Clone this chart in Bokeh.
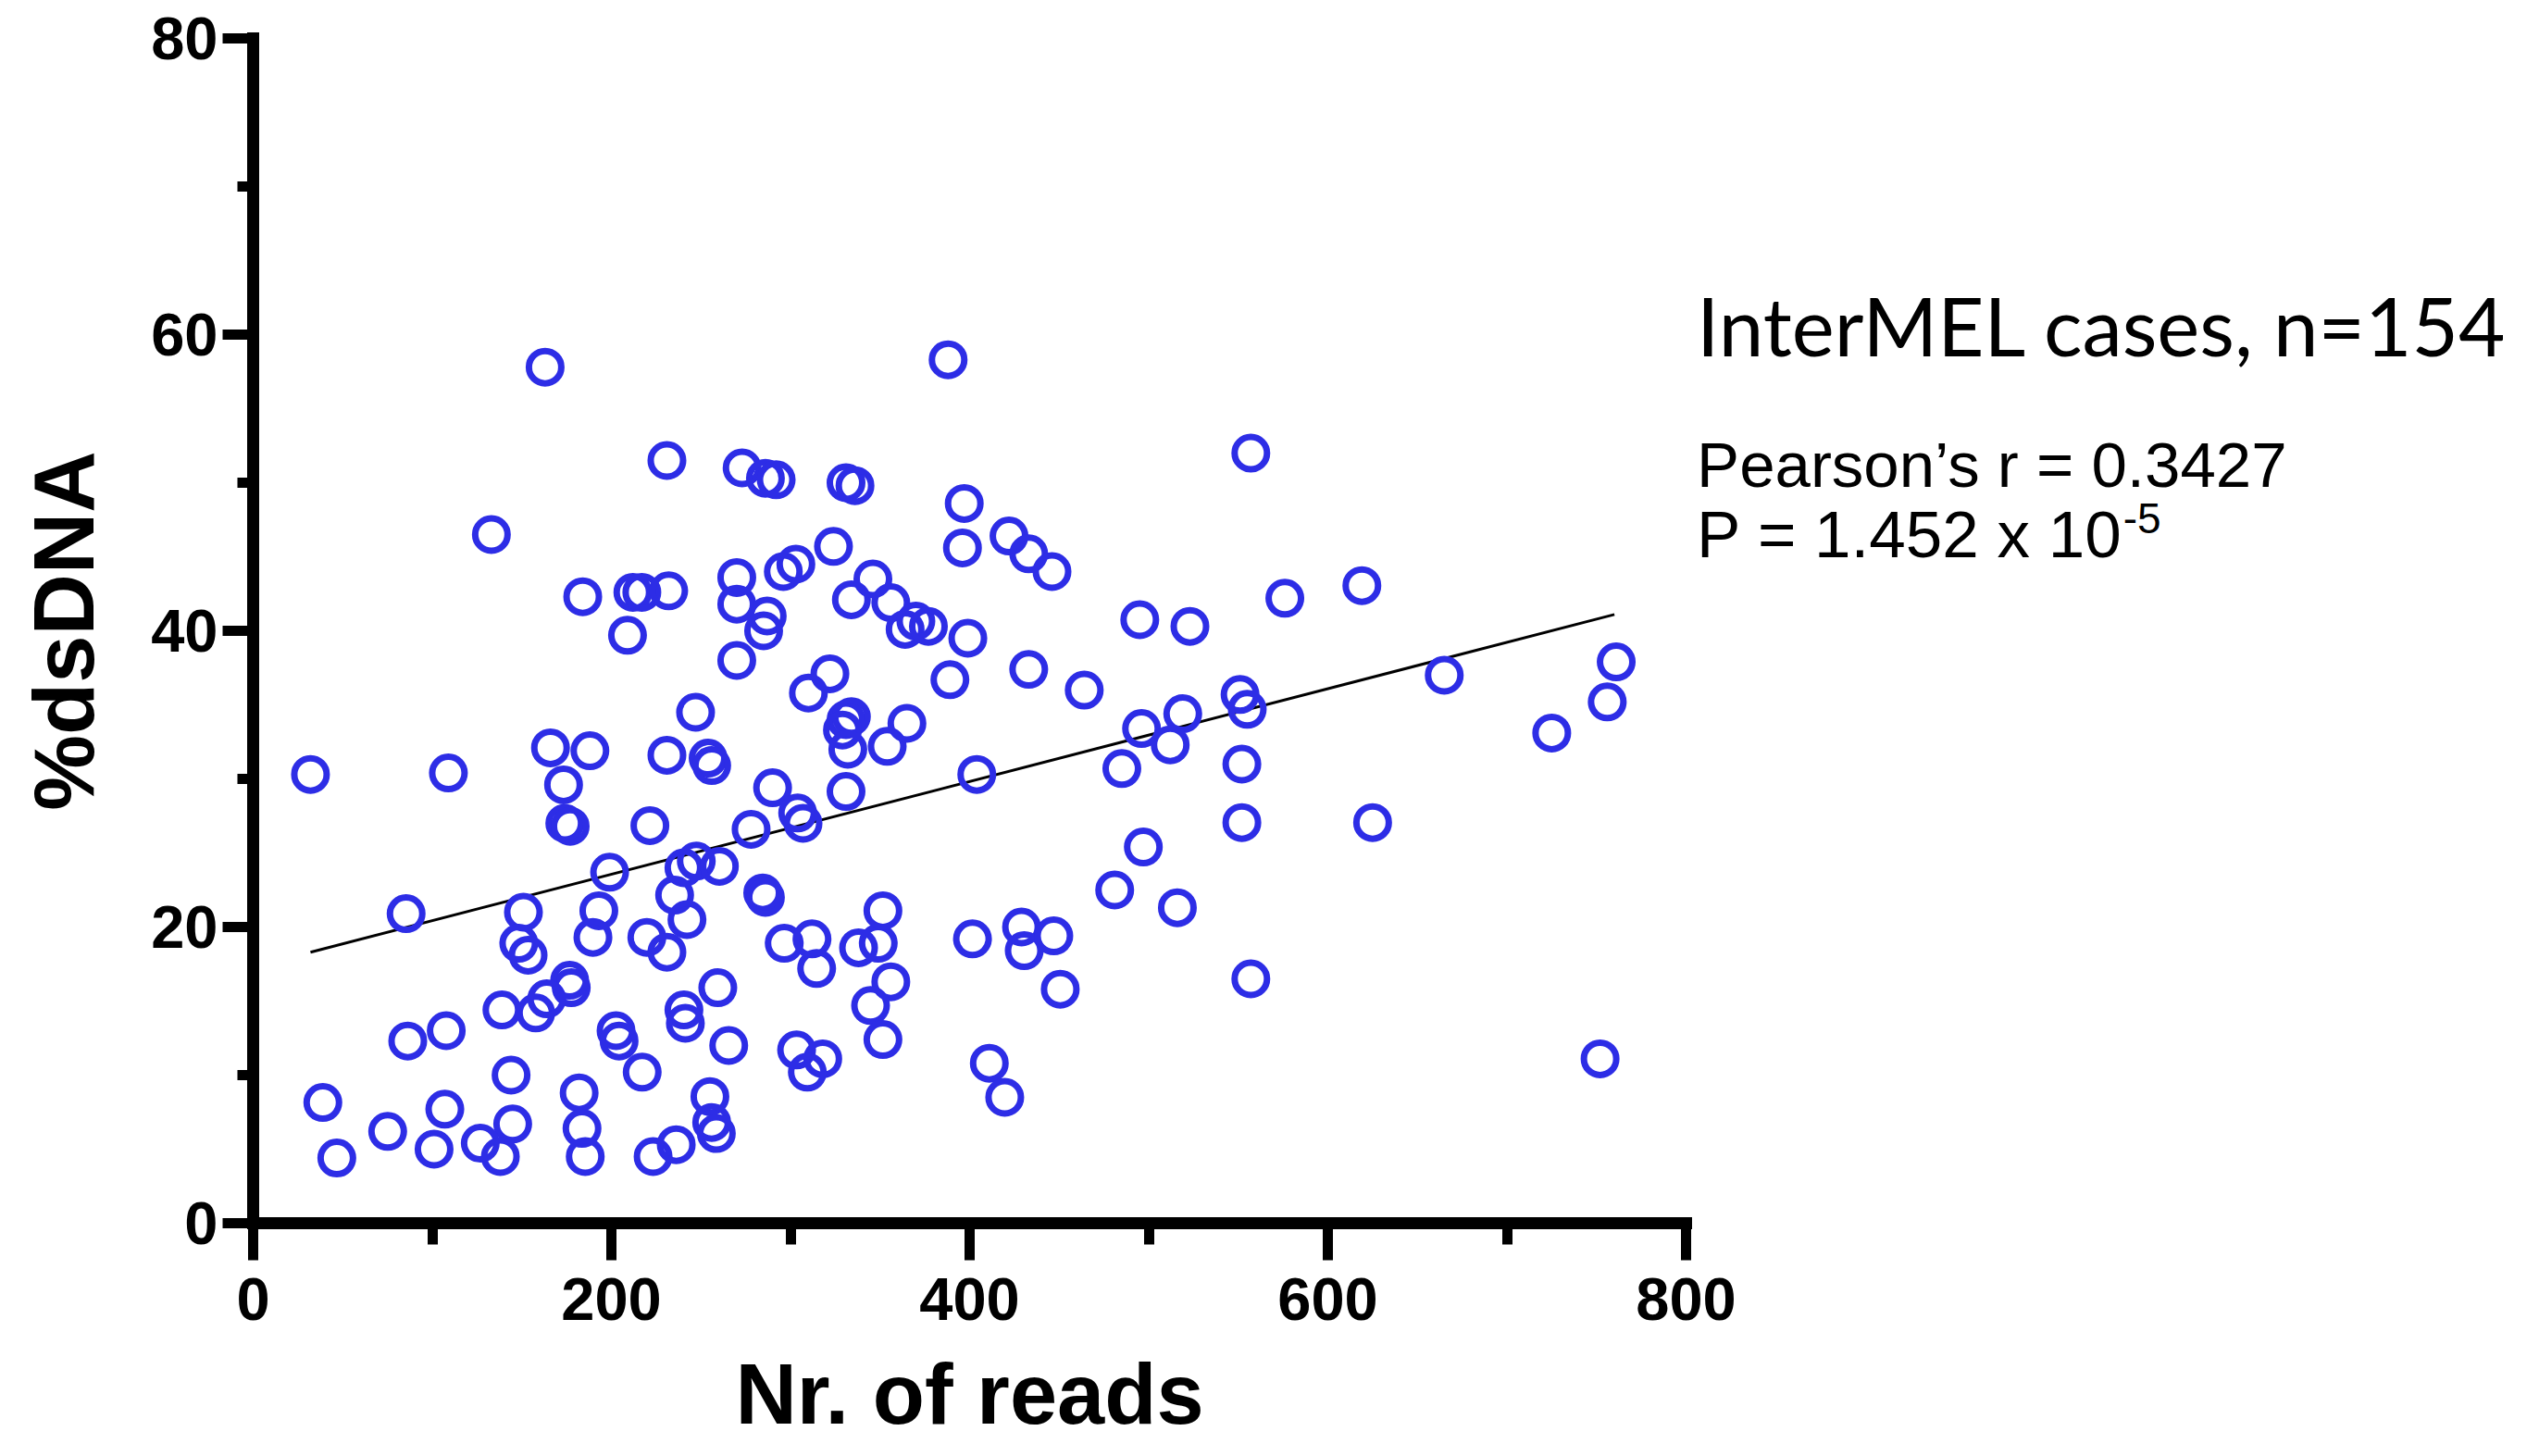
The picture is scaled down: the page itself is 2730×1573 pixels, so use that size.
from bokeh.plotting import figure
from bokeh.models import Range1d, SingleIntervalTicker, Label
from bokeh.embed import file_html
from bokeh.resources import INLINE

# ---- data ----
reads = [163, 388, 557, 231, 273, 286, 292, 331, 336, 397,
         133, 396, 422, 433, 446, 324, 296, 303, 270, 270,
         184, 212, 217, 232, 209, 287, 285, 270, 334, 346,
         356, 364, 370, 377, 399, 495, 523, 322, 310, 389,
         433, 464, 331, 334, 329, 332, 354, 365, 496, 519,
         512, 485, 404, 576, 619, 551, 555, 665, 761, 756,
         725, 552, 247, 166, 188, 231, 254, 256,
         552, 625, 557, 752,
         290, 278, 304, 307, 331, 497, 481, 516, 284.5, 286,
         296.5, 312, 314.6, 338, 349, 351.6, 356, 344.7, 351.6, 303.4,
         318, 309.4, 401.6, 429, 430.5, 447, 450.6, 411, 419.6,
         32, 109, 173.3, 174, 177, 221.5, 199, 247.4, 240.5, 260.3,
         235.3, 242.2, 193, 189.7, 219.8, 231, 85.4, 150.9, 148.3, 153.5,
         177.6, 176.7, 157.8, 163.9, 138.9, 202.6, 204.3, 217.2, 240.5, 241.3,
         259.4, 265.5, 86.3, 107.8, 144, 38.9, 107, 182, 255, 256,
         258.6, 75.1, 144.9, 183.6, 46.7, 101, 126.8, 138, 185.4, 223.3,
         236.2]
dsdna = [57.8, 58.3, 52.0, 51.5, 51.0, 50.3, 50.2, 50.0, 49.8, 48.6,
         46.5, 45.6, 46.4, 45.2, 44.0, 45.7, 44.0, 44.5, 43.6, 41.8,
         42.3, 42.6, 42.6, 42.7, 39.7, 41.0, 40.0, 38.0, 42.1, 43.5,
         41.9, 40.1, 40.65, 40.3, 39.5, 40.75, 40.3, 37.1, 35.8, 36.7,
         37.4, 36.0, 34.0, 34.2, 33.3, 32.0, 32.2, 33.75, 33.4, 34.4,
         32.3, 30.7, 30.3, 42.2, 43.05, 35.7, 34.7, 37.0, 37.9, 35.2,
         33.1, 31.0, 34.5, 32.1, 31.9, 31.6, 31.4, 30.9,
         27.05, 27.05, 16.5, 11.1,
         29.4, 26.6, 27.7, 27.0, 29.15, 25.4, 22.5, 21.3, 22.3, 22.0,
         18.9, 19.2, 17.2, 18.6, 18.9, 21.1, 16.3, 14.7, 12.4, 11.7,
         11.1, 10.2, 19.2, 20.0, 18.4, 19.4, 15.8, 10.8, 8.5,
         30.3, 30.4, 29.6, 27.0, 26.8, 26.85, 23.7, 24.45, 24.0, 24.1,
         22.15, 20.5, 21.1, 19.3, 19.3, 18.3, 20.9, 21.0, 18.9, 18.1,
         15.9, 16.4, 14.2, 15.15, 14.4, 13.0, 12.3, 10.2, 14.4, 13.5,
         15.9, 12.0, 12.3, 13.0, 10.0, 8.15, 7.7, 8.8, 8.55, 6.8,
         6.06, 6.2, 6.7, 6.4, 4.4, 5.0, 5.4, 4.5, 4.5, 4.5,
         5.3]

trend_reads = [32, 760]
trend_dsdna = [18.3, 41.1]

x_axis_bounds = (0, 800)
y_axis_bounds = (0, 80)
x_tick_interval = 200
y_tick_interval = 20

title_text = "InterMEL cases, n=154"
stat_r_text = "Pearson\u2019s r = 0.3427"
stat_p_text = "P = 1.452 x 10"
stat_p_exp = "-5"

# canvas geometry: the whole canvas is the plot frame; axes sit at 0
W, H = 2714, 1557
X0_PX, Y0_PX = 273, 1321      # canvas position of (0, 0)
PX_X = 1.935                  # pixels per read
PX_Y = 16.0                   # pixels per %dsDNA

x_range = Range1d(-X0_PX / PX_X, (W - X0_PX) / PX_X)
y_range = Range1d(-(H - Y0_PX) / PX_Y, Y0_PX / PX_Y)

p = figure(width=W, height=H, x_range=x_range, y_range=y_range,
           output_backend="svg", toolbar_location=None,
           min_border_left=0, min_border_right=0,
           min_border_top=0, min_border_bottom=0)

p.background_fill_color = "white"
p.border_fill_color = "white"
p.outline_line_color = None
p.xgrid.visible = False
p.ygrid.visible = False

p.xaxis.ticker = SingleIntervalTicker(interval=x_tick_interval, num_minor_ticks=2)
p.yaxis.ticker = SingleIntervalTicker(interval=y_tick_interval, num_minor_ticks=2)
p.xaxis.bounds = x_axis_bounds
p.yaxis.bounds = y_axis_bounds
p.xaxis.fixed_location = 0
p.yaxis.fixed_location = 0

for ax in (p.xaxis, p.yaxis):
    ax.axis_line_width = 13
    ax.axis_line_color = "black"
    ax.axis_line_cap = "square"
    ax.major_tick_line_width = 11
    ax.minor_tick_line_width = 11
    ax.major_tick_line_color = "black"
    ax.minor_tick_line_color = "black"
    ax.major_tick_in = 0
    ax.minor_tick_in = 0
    ax.major_label_text_font = "Liberation Sans"
    ax.major_label_text_font_style = "bold"
    ax.major_label_text_font_size = "65px"
    ax.major_label_text_color = "black"
    ax.axis_label_text_font = "Liberation Sans"
    ax.axis_label_text_font_style = "bold"
    ax.axis_label_text_font_size = "92px"
    ax.axis_label_text_color = "black"

p.xaxis.major_tick_out = 40
p.xaxis.minor_tick_out = 23
p.yaxis.major_tick_out = 33
p.yaxis.minor_tick_out = 17
p.xaxis.major_label_standoff = 19
p.yaxis.major_label_standoff = 5

p.xaxis.axis_label = "Nr. of reads"
p.yaxis.axis_label = "%dsDNA"
p.xaxis.axis_label_standoff = 26
p.yaxis.axis_label_standoff = 40

p.line(trend_reads, trend_dsdna, line_color="black", line_width=3)
p.scatter(reads, dsdna, marker="circle", size=35, line_width=7,
          line_color="#2d2de6", fill_alpha=0)

p.add_layout(Label(x=806, y=60.6, text=title_text, text_font="Lato",
                   text_font_size="87px", text_color="black",
                   text_baseline="alphabetic"))
p.add_layout(Label(x=806, y=51.2, text=stat_r_text, text_font="Liberation Sans",
                   text_font_size="69px", text_color="black",
                   text_baseline="alphabetic"))
p.add_layout(Label(x=806, y=46.5, text=stat_p_text, text_font="Liberation Sans",
                   text_font_size="71px", text_color="black",
                   text_baseline="alphabetic"))
p.add_layout(Label(x=1044, y=47.6, text=stat_p_exp, text_font="Liberation Sans",
                   text_font_size="46px", text_color="black",
                   text_baseline="alphabetic"))

open("out.html", "w").write(file_html(p, INLINE))
